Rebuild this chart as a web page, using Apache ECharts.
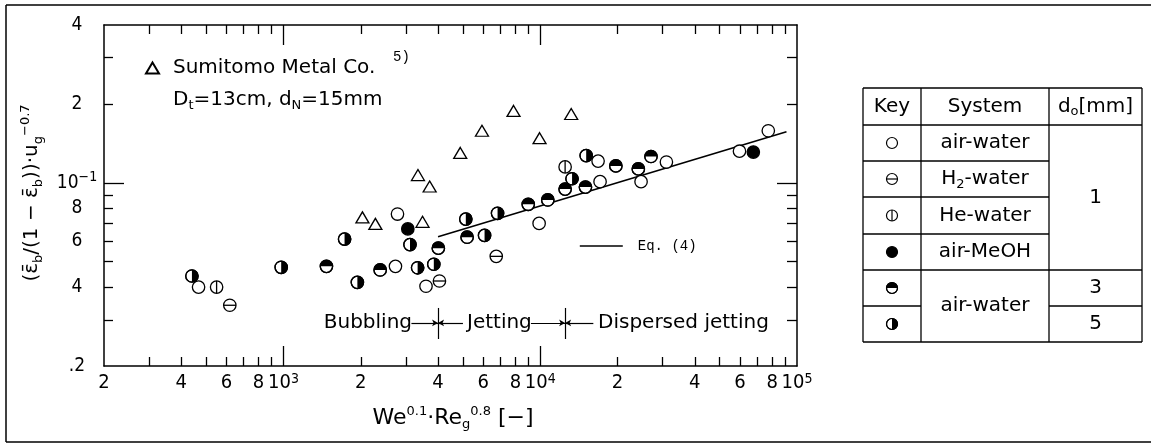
<!DOCTYPE html>
<html><head><meta charset="utf-8">
<script src="https://cdn.jsdelivr.net/npm/echarts@6/dist/echarts.min.js"></script>
<style>html,body{margin:0;padding:0;background:#fff}#c{width:1151px;height:444px}</style>
</head><body><div id="c"></div>
<script>
// ---------- data (x = We^0.1·Reg^0.8, y = (eb/(1-eb))·ug^-0.7) ----------
const airWater1 = [[467,0.040],[2780,0.076],[2730,0.048],[3590,0.0403],[9900,0.070],[16800,0.121],[17100,0.101],[24700,0.101],[31000,0.120],[59700,0.132],[77300,0.158]];
const h2Water   = [[618,0.0341],[4050,0.0422],[6740,0.0524]];
const heWater   = [[549,0.040],[12500,0.115]];
const airMeOH   = [[3050,0.0667],[67600,0.131]];
const airWater3 = [[1470,0.048],[2380,0.0465],[4010,0.0563],[5190,0.062],[8980,0.0828],[10700,0.086],[12500,0.0946],[15000,0.0963],[19700,0.116],[24100,0.113],[27000,0.126]];
const airWater5 = [[440,0.0441],[980,0.0476],[1730,0.061],[1940,0.0417],[3110,0.0581],[3330,0.0474],[3850,0.0489],[5130,0.0727],[6070,0.063],[6820,0.0765],[13300,0.1036],[15100,0.127]];
const sumitomo  = [[2030,0.0738],[2280,0.0697],[3340,0.107],[3710,0.0968],[3480,0.071],[4880,0.130],[5930,0.158],[7870,0.188],[9940,0.148],[13200,0.183]];
const eq4Line   = [[4000,0.0623],[91000,0.1566]];

// regime annotation (data coordinates)
const regimeBounds = [4000, 12500];
const regimeBarY = [0.0333, 0.02535];
const regimeArrowY = 0.0292;
const regimeArrows = [[3150,4000],[5000,4000],[9200,12500],[16100,12500]];

// axes
const xRange = [200, 100000];
const yRange = [0.02, 0.4];
const xMinorTicks = [300,400,500,600,700,800,900,2000,3000,4000,5000,6000,7000,8000,9000,20000,30000,40000,50000,60000,70000,80000,90000];
const xMajorTicks = [1000,10000];
const xLabelValues = [200,400,600,800,1000,2000,4000,6000,8000,10000,20000,40000,60000,80000,100000];
const xLabelTexts  = ['2','4','6','8','10{e|3}','2','4','6','8','10{e|4}','2','4','6','8','10{e|5}'];
const yMinorTicks = [0.03,0.04,0.05,0.06,0.07,0.08,0.09,0.2,0.3];
const yMajorTicks = [0.1];
const yLabelValues = [0.02,0.04,0.06,0.08,0.1,0.2,0.4];
const yLabelTexts  = ['.2','4','6','8','10{e|−1}','2','4'];

// table
const tableKeys = ['open','hline','vline','filled','top','right'];
const tableSystems = ['air-water','H{s|2}-water','He-water','air-MeOH'];

// ---------- helpers ----------
const TICKFONT = "'Liberation Sans Narrow','DejaVu Sans Condensed','Liberation Sans',sans-serif";
const SANS = "'DejaVu Sans',sans-serif";
const BLACK = '#000';

function markerShapes(kind, cx, cy, r, lw) {
  const out = [];
  out.push({type:'circle', shape:{cx:cx, cy:cy, r:r}, style:{fill: kind === 'filled' ? BLACK : '#fff', stroke:BLACK, lineWidth:lw}});
  if (kind === 'top') out.push({type:'sector', shape:{cx:cx, cy:cy, r0:0, r:r, startAngle:Math.PI, endAngle:2*Math.PI}, style:{fill:BLACK}});
  if (kind === 'right') out.push({type:'sector', shape:{cx:cx, cy:cy, r0:0, r:r, startAngle:-Math.PI/2, endAngle:Math.PI/2}, style:{fill:BLACK}});
  if (kind === 'hline') out.push({type:'line', shape:{x1:cx-r, y1:cy, x2:cx+r, y2:cy}, style:{stroke:BLACK, lineWidth:lw}});
  if (kind === 'vline') out.push({type:'line', shape:{x1:cx, y1:cy-r, x2:cx, y2:cy+r}, style:{stroke:BLACK, lineWidth:lw}});
  if (kind === 'top' || kind === 'right') out.push({type:'circle', shape:{cx:cx, cy:cy, r:r}, style:{fill:'none', stroke:BLACK, lineWidth:lw}});
  return out;
}
function circleSeries(name, data, kind) {
  return {
    type:'custom', name:name, data:data, z:5,
    encode:{x:0, y:1},
    renderItem:function(params, api) {
      const p = api.coord([api.value(0), api.value(1)]);
      return {type:'group', children: markerShapes(kind, p[0], p[1], 6.2, 1.3)};
    }
  };
}
function nearestLabel(values, texts, v) {
  let best = 0, bd = Infinity;
  for (let i = 0; i < values.length; i++) {
    const d = Math.abs(Math.log(values[i]) - Math.log(v));
    if (d < bd) { bd = d; best = i; }
  }
  return texts[best];
}
const tickStyle = {color:BLACK, width:1.3};
function xAxisDef(pos, ticks, len, showLine, showLabel) {
  return {
    type:'log', logBase:10, min:xRange[0], max:xRange[1], position:pos, gridIndex:0,
    axisLine:{show:showLine, onZero:false, lineStyle:{color:BLACK, width:1.5}},
    axisTick:{show:true, inside:true, length:len, customValues:ticks, lineStyle:tickStyle},
    minorTick:{show:false}, splitLine:{show:false},
    axisLabel: showLabel ? {
      show:true, customValues:xLabelValues, margin:6, color:BLACK,
      fontFamily:TICKFONT, fontSize:20, lineHeight:22,
      formatter:function(v){ return nearestLabel(xLabelValues, xLabelTexts, v); },
      rich:{e:{fontFamily:TICKFONT, fontSize:14, lineHeight:14, verticalAlign:'top', color:BLACK}}
    } : {show:false}
  };
}
function yAxisDef(pos, ticks, len, showLine, showLabel) {
  return {
    type:'log', logBase:10, min:yRange[0], max:yRange[1], position:pos, gridIndex:0,
    axisLine:{show:showLine, onZero:false, lineStyle:{color:BLACK, width:1.5}},
    axisTick:{show:true, inside:true, length:len, customValues:ticks, lineStyle:tickStyle},
    minorTick:{show:false}, splitLine:{show:false},
    axisLabel: showLabel ? {
      show:true, customValues:yLabelValues, margin:27, align:'center', color:BLACK,
      fontFamily:TICKFONT, fontSize:19, lineHeight:24,
      formatter:function(v){ return nearestLabel(yLabelValues, yLabelTexts, v); },
      rich:{e:{fontFamily:TICKFONT, fontSize:14, lineHeight:12, verticalAlign:'top', color:BLACK}}
    } : {show:false}
  };
}

// ---------- graphics: frame, texts, table ----------
const graphics = [];
function gLine(x1,y1,x2,y2,w){ graphics.push({type:'line', silent:true, shape:{x1:x1,y1:y1,x2:x2,y2:y2}, style:{stroke:BLACK, lineWidth:w||1.3}}); }
function gText(x,y,text,opt){
  opt = opt || {};
  graphics.push({type:'text', silent:true, x:x, y:y, rotation:opt.rotation||0, style:{
    text:text, fill:BLACK, fontFamily:opt.family||SANS, fontSize:opt.size||20,
    align:opt.align||'center', verticalAlign:'middle', textAlign:opt.align||'center', textVerticalAlign:'middle',
    lineHeight:opt.lineHeight, rich:opt.rich||{}
  }});
}
// outer frame
gLine(6,5,1151,5,1.5); gLine(6,442,1151,442,1.5); gLine(6,5,6,442,1.5);

// annotations
const subRich = {s:{fontFamily:SANS, fontSize:13, lineHeight:12, verticalAlign:'bottom', fill:BLACK, color:BLACK},
                 p:{fontFamily:SANS, fontSize:13, lineHeight:12, verticalAlign:'top', fill:BLACK, color:BLACK}};
gText(393,57,'5)',{family:"'Liberation Mono',monospace", size:14, align:'left'});
gText(173,100,'D{s|t}=13cm, d{s|N}=15mm',{align:'left', lineHeight:24, rich:subRich});
gText(412,323,'Bubbling',{align:'right'});
gText(467,323,'Jetting',{align:'left'});
gText(598,323,'Dispersed jetting',{align:'left'});
// axis titles
gText(453,418,'We{p|0.1}·Re{s|g}{p|0.8} [−]',{size:22, lineHeight:26, rich:subRich});
gText(32,193,'(ε̄{s|b}/(1 − ε̄{s|b}))·u{s|g}{p|−0.7}',{size:20, lineHeight:26, rotation:Math.PI/2, rich:subRich});

// table
const tc = [863, 921, 1049, 1142];
const tr = [88, 125, 161, 197, 234, 270, 306, 342];
gLine(tc[0],tr[0],tc[3],tr[0]); gLine(tc[0],tr[7],tc[3],tr[7]);
gLine(tc[0],tr[0],tc[0],tr[7]); gLine(tc[3],tr[0],tc[3],tr[7]);
gLine(tc[1],tr[0],tc[1],tr[7]); gLine(tc[2],tr[0],tc[2],tr[7]);
gLine(tc[0],tr[1],tc[3],tr[1]);
for (let i = 2; i <= 4; i++) gLine(tc[0],tr[i],tc[2],tr[i]);
gLine(tc[0],tr[5],tc[3],tr[5]);
gLine(tc[0],tr[6],tc[1],tr[6]); gLine(tc[2],tr[6],tc[3],tr[6]);
const mid = (a,b)=>(a+b)/2;
gText(mid(tc[0],tc[1]), mid(tr[0],tr[1]), 'Key');
gText(mid(tc[1],tc[2]), mid(tr[0],tr[1]), 'System');
gText(mid(tc[2],tc[3]), mid(tr[0],tr[1]), 'd{s|o}[mm]',{lineHeight:24, rich:subRich});
tableSystems.forEach((s,i)=>gText(mid(tc[1],tc[2]), mid(tr[i+1],tr[i+2]), s, {lineHeight:24, rich:subRich}));
gText(mid(tc[1],tc[2]), mid(tr[5],tr[7]), 'air-water');
gText(mid(tc[2],tc[3]), mid(tr[1],tr[5]), '1');
gText(mid(tc[2],tc[3]), mid(tr[5],tr[6]), '3');
gText(mid(tc[2],tc[3]), mid(tr[6],tr[7]), '5');
tableKeys.forEach((k,i)=>{
  markerShapes(k, mid(tc[0],tc[1]), mid(tr[i+1],tr[i+2]), 5.5, 1.2).forEach(g=>{ g.silent = true; graphics.push(g); });
});

// ---------- chart ----------
const markLineData = [];
regimeBounds.forEach(x=>markLineData.push([{coord:[x, regimeBarY[0]], symbol:'none'},{coord:[x, regimeBarY[1]], symbol:'none'}]));
regimeArrows.forEach(a=>markLineData.push([{coord:[a[0], regimeArrowY], symbol:'none'},{coord:[a[1], regimeArrowY], symbol:'arrow', symbolSize:[5,6]}]));

const chart = echarts.init(document.getElementById('c'), null, {renderer:'canvas'});
chart.setOption({
  animation:false,
  backgroundColor:'#fff',
  grid:{left:104, right:354, top:25, bottom:78, containLabel:false},
  xAxis:[
    xAxisDef('bottom', xMinorTicks, 9, true, true),
    xAxisDef('bottom', xMajorTicks, 20, false, false),
    xAxisDef('top', xMinorTicks, 9, true, false),
    xAxisDef('top', xMajorTicks, 20, false, false)
  ],
  yAxis:[
    yAxisDef('left', yMinorTicks, 9, true, true),
    yAxisDef('left', yMajorTicks, 20, false, false),
    yAxisDef('right', yMinorTicks, 10, true, false),
    yAxisDef('right', yMajorTicks, 20, false, false)
  ],
  legend:[
    {data:['Sumitomo Metal Co.'], left:145, top:58, padding:0, itemWidth:13, itemHeight:11, symbolKeepAspect:false, selectedMode:false,
     itemStyle:{opacity:1},
     formatter:function(n){ return '{g| }' + n; },
     textStyle:{fontFamily:SANS, fontSize:20, color:BLACK, rich:{g:{width:9}}}},
    {data:['Eq. (4)'], left:579, top:239, padding:0, itemWidth:43, itemHeight:14, selectedMode:false,
     itemStyle:{opacity:0}, lineStyle:{opacity:1, color:BLACK, width:1.6},
     formatter:function(n){ return '{g| }' + n; },
     textStyle:{fontFamily:"'Liberation Mono',monospace", fontSize:14, color:BLACK, rich:{g:{width:10}}}}
  ],
  series:[
    {type:'line', name:'Eq. (4)', data:eq4Line, symbol:'none', z:2, lineStyle:{color:BLACK, width:1.6}, itemStyle:{color:BLACK},
     markLine:{silent:true, animation:false, label:{show:false}, lineStyle:{color:BLACK, width:1.2, type:'solid'}, emphasis:{disabled:true}, data:markLineData}},
    {type:'scatter', name:'Sumitomo Metal Co.', data:sumitomo, symbol:'triangle', symbolSize:[13,11], z:4,
     itemStyle:{color:'#fff', borderColor:BLACK, borderWidth:1.3, opacity:1}},
    circleSeries('air-water 1mm', airWater1, 'open'),
    circleSeries('H2-water', h2Water, 'hline'),
    circleSeries('He-water', heWater, 'vline'),
    circleSeries('air-MeOH', airMeOH, 'filled'),
    circleSeries('air-water 3mm', airWater3, 'top'),
    circleSeries('air-water 5mm', airWater5, 'right')
  ],
  graphic:graphics
});
</script></body></html>
